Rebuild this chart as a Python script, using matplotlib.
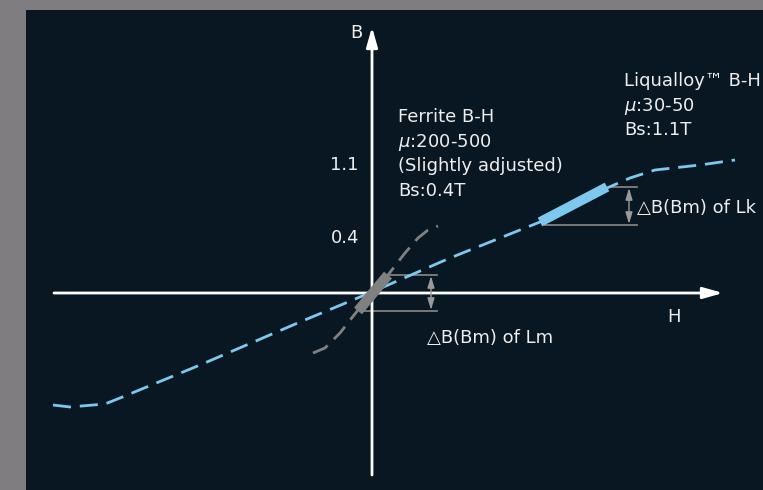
import numpy as np
import matplotlib.pyplot as plt

plt.rcParams['font.family'] = ['DejaVu Sans', 'Noto Sans CJK JP']
plt.rcParams['mathtext.fontset'] = 'dejavusans'

# B-H curves (schematic units)
liq_h = [-3.19, -3.02, -2.67, -2.52, -1.72, -0.72, 0.0, 0.78, 1.68, 2.35, 2.58, 2.83, 3.28, 3.63]
liq_b = [-1.12, -1.14, -1.11, -1.05, -0.72, -0.29, 0.01, 0.35, 0.71, 1.05, 1.15, 1.23, 1.28, 1.33]
fer_h = [-0.59, -0.47, -0.32, -0.14, 0.0, 0.16, 0.33, 0.46, 0.56, 0.66]
fer_b = [-0.60, -0.55, -0.40, -0.17, 0.0, 0.18, 0.40, 0.55, 0.63, 0.67]

# working ranges (thick parts)
lk_h = [1.68, 2.35]
lk_b = [0.71, 1.06]
lm_h = [-0.14, 0.16]
lm_b = [-0.18, 0.18]

tick_pos = [1.28, 0.55]
tick_labels = ['1.1', '0.4']

ferrite_text = ['Ferrite B-H', r'$\mu$:200-500', '(Slightly adjusted)', 'Bs:0.4T']
liq_text = ['Liqualloy™ B-H', r'$\mu$:30-50', 'Bs:1.1T']

BG = '#081722'
FRAME = '#807d80'
BLUE = '#7dc8ee'
GRAY = '#808080'
TXT = '#eeeeee'
FS = 13

fig = plt.figure(figsize=(7.63, 4.90), dpi=100, facecolor=FRAME)
ax = fig.add_axes([26 / 763, 0, 737 / 763, 480 / 490])
ax.set_facecolor(BG)
for s in ax.spines.values():
    s.set_visible(False)
ax.set_xticks([])
ax.set_yticks([])
ax.set_xlim(-3.46, 3.91)
ax.set_ylim(-1.97, 2.83)

# axes arrows
head = '-|>,head_length=0.6,head_width=0.17'
ax.annotate('', xy=(3.51, 0), xytext=(-3.18, 0),
            arrowprops=dict(arrowstyle=head, color='white', lw=2, mutation_scale=20,
                            shrinkA=0, shrinkB=0))
ax.annotate('', xy=(0, 2.66), xytext=(0, -1.82),
            arrowprops=dict(arrowstyle=head, color='white', lw=2, mutation_scale=20,
                            shrinkA=0, shrinkB=0))
ax.text(-0.09, 2.60, 'B', color=TXT, fontsize=FS, ha='right', va='center')
ax.text(3.02, -0.24, 'H', color=TXT, fontsize=FS, ha='center', va='center')

for p, lab in zip(tick_pos, tick_labels):
    ax.text(-0.13, p, lab, color=TXT, fontsize=FS, ha='right', va='center')

# curves
ax.plot(liq_h, liq_b, color=BLUE, lw=2, dashes=(6.5, 3.2), zorder=3)
ax.plot(fer_h, fer_b, color=GRAY, lw=2, dashes=(6.0, 3.2), zorder=2)
ax.plot(lk_h, lk_b, color=BLUE, lw=7, solid_capstyle='butt', zorder=4)
ax.plot(lm_h, lm_b, color=GRAY, lw=7.5, solid_capstyle='butt', zorder=4)

# delta B marks
dbl = dict(arrowstyle='<|-|>,head_length=0.5,head_width=0.15', color='#9a9a9a', lw=1,
           mutation_scale=14, shrinkA=0, shrinkB=0)
ax.plot([0.13, 0.65], [0.18, 0.18], color=GRAY, lw=1.3, zorder=1)
ax.plot([-0.10, 0.65], [-0.18, -0.18], color=GRAY, lw=1.3, zorder=1)
ax.annotate('', xy=(0.59, 0.17), xytext=(0.59, -0.17), arrowprops=dbl)
ax.text(0.55, -0.45, '△B(Bm) of Lm', color=TXT, fontsize=FS, ha='left', va='center')

ax.plot([2.38, 2.65], [1.06, 1.06], color=GRAY, lw=1.3, zorder=1)
ax.plot([1.73, 2.65], [0.68, 0.68], color=GRAY, lw=1.3, zorder=1)
ax.annotate('', xy=(2.57, 1.05), xytext=(2.57, 0.69), arrowprops=dbl)
ax.text(2.65, 0.85, '△B(Bm) of Lk', color=TXT, fontsize=FS, ha='left', va='center')

# material notes
for i, line in enumerate(ferrite_text):
    ax.text(0.26, 1.71 - 0.245 * i, line, color=TXT, fontsize=FS, ha='left', va='baseline')
for i, line in enumerate(liq_text):
    ax.text(2.52, 2.07 - 0.245 * i, line, color=TXT, fontsize=FS, ha='left', va='baseline')

fig.savefig('out.png', dpi=100, facecolor=FRAME)
